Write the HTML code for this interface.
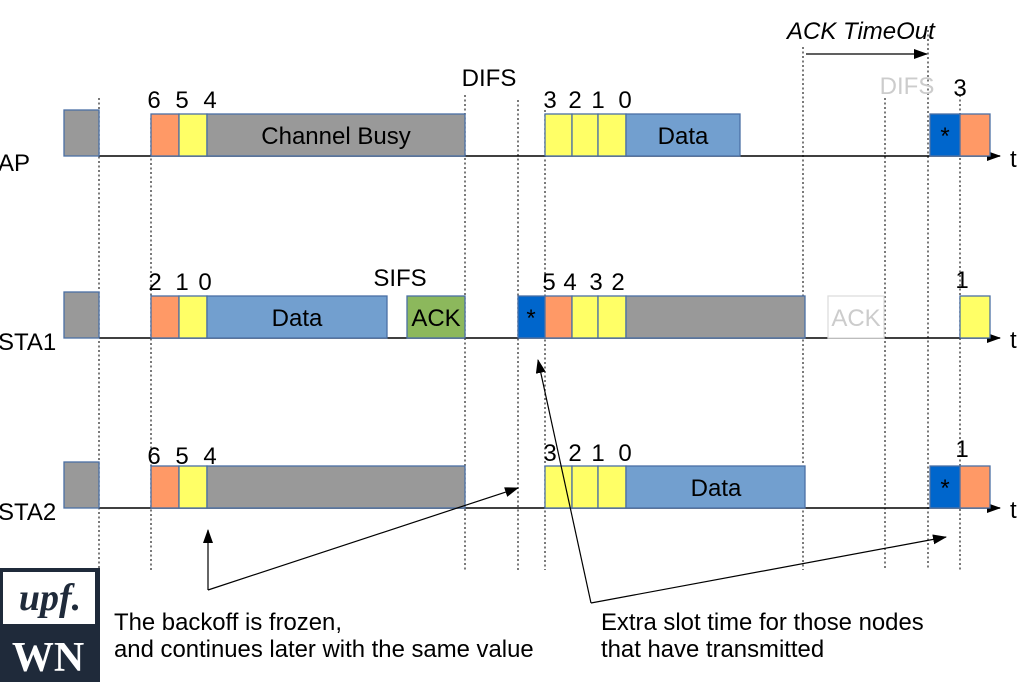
<!DOCTYPE html>
<html><head><meta charset="utf-8"><style>
html,body{margin:0;padding:0;background:#fff;}
svg{display:block;font-family:"Liberation Sans",sans-serif;}
</style></head><body>
<svg width="1020" height="682" viewBox="0 0 1020 682" xmlns="http://www.w3.org/2000/svg">
<defs>
<marker id="ah" markerWidth="14" markerHeight="10" refX="13" refY="5" orient="auto" markerUnits="userSpaceOnUse"><path d="M0,0 L14,5 L0,10 z" fill="#000"/></marker>
</defs>
<g stroke="#333" stroke-width="1.3" stroke-dasharray="2,2.5">
<line x1="99" y1="98" x2="99" y2="570"/>
<line x1="151" y1="118" x2="151" y2="570"/>
<line x1="465" y1="95" x2="465" y2="570"/>
<line x1="518" y1="100" x2="518" y2="570"/>
<line x1="545" y1="110" x2="545" y2="570"/>
<line x1="803" y1="47" x2="803" y2="570"/>
<line x1="885" y1="98" x2="885" y2="570"/>
<line x1="928" y1="30" x2="928" y2="570"/>
<line x1="960" y1="95" x2="960" y2="570"/>
</g>
<g stroke="#000" stroke-width="1.5">
<line x1="99" y1="156" x2="1000" y2="156" marker-end="url(#ah)"/>
<line x1="99" y1="338" x2="1000" y2="338" marker-end="url(#ah)"/>
<line x1="99" y1="508" x2="1000" y2="508" marker-end="url(#ah)"/>
</g>
<g font-size="24" fill="#000">
<text x="-2" y="171">AP</text><text x="1010" y="167">t</text>
<text x="-2" y="350">STA1</text><text x="1010" y="348">t</text>
<text x="-2" y="520">STA2</text><text x="1010" y="518">t</text>
</g>
<g stroke="#4a6fa5" stroke-width="1.3">
<rect x="64" y="110" width="35" height="46" fill="#999"/>
<rect x="151" y="114" width="28" height="42" fill="#ff9966"/>
<rect x="179" y="114" width="28" height="42" fill="#ffff66"/>
<rect x="207" y="114" width="258" height="42" fill="#999"/>
<rect x="545" y="114" width="27" height="42" fill="#ffff66"/>
<rect x="572" y="114" width="26" height="42" fill="#ffff66"/>
<rect x="598" y="114" width="28" height="42" fill="#ffff66"/>
<rect x="626" y="114" width="114" height="42" fill="#729fcf"/>
<rect x="930" y="114" width="30" height="42" fill="#0066cc"/>
<rect x="960" y="114" width="30" height="42" fill="#ff9966"/>
<rect x="64" y="292" width="35" height="46" fill="#999"/>
<rect x="151" y="296" width="28" height="42" fill="#ff9966"/>
<rect x="179" y="296" width="28" height="42" fill="#ffff66"/>
<rect x="207" y="296" width="180" height="42" fill="#729fcf"/>
<rect x="407" y="296" width="58" height="42" fill="#8cb85c"/>
<rect x="518" y="296" width="27" height="42" fill="#0066cc"/>
<rect x="545" y="296" width="27" height="42" fill="#ff9966"/>
<rect x="572" y="296" width="26" height="42" fill="#ffff66"/>
<rect x="598" y="296" width="28" height="42" fill="#ffff66"/>
<rect x="626" y="296" width="179" height="42" fill="#999"/>
<rect x="960" y="296" width="30" height="42" fill="#ffff66"/>
<rect x="64" y="462" width="35" height="46" fill="#999"/>
<rect x="151" y="466" width="28" height="42" fill="#ff9966"/>
<rect x="179" y="466" width="28" height="42" fill="#ffff66"/>
<rect x="207" y="466" width="258" height="42" fill="#999"/>
<rect x="545" y="466" width="27" height="42" fill="#ffff66"/>
<rect x="572" y="466" width="26" height="42" fill="#ffff66"/>
<rect x="598" y="466" width="28" height="42" fill="#ffff66"/>
<rect x="626" y="466" width="179" height="42" fill="#729fcf"/>
<rect x="930" y="466" width="30" height="42" fill="#0066cc"/>
<rect x="960" y="466" width="30" height="42" fill="#ff9966"/>
</g>
<rect x="828" y="296" width="56" height="42" fill="#fff" stroke="#ddd" stroke-width="1.3"/>
<g font-size="24" fill="#000" text-anchor="middle">
<text x="336" y="144">Channel Busy</text>
<text x="683" y="144">Data</text>
<text x="945" y="144">*</text>
<text x="297" y="326">Data</text>
<text x="436" y="326">ACK</text>
<text x="531" y="326">*</text>
<text x="856" y="326" fill="#ccc">ACK</text>
<text x="716" y="496">Data</text>
<text x="945" y="496">*</text>
<text x="154" y="108">6</text><text x="182" y="108">5</text><text x="210" y="108">4</text>
<text x="550" y="108">3</text><text x="575" y="108">2</text><text x="598" y="108">1</text><text x="625" y="108">0</text>
<text x="960" y="96">3</text>
<text x="155" y="290">2</text><text x="182" y="290">1</text><text x="205" y="290">0</text>
<text x="549" y="290">5</text><text x="570" y="290">4</text><text x="596" y="290">3</text><text x="618" y="290">2</text>
<text x="962" y="288">1</text>
<text x="154" y="464">6</text><text x="182" y="464">5</text><text x="210" y="464">4</text>
<text x="550" y="461">3</text><text x="575" y="461">2</text><text x="598" y="461">1</text><text x="625" y="461">0</text>
<text x="962" y="457">1</text>
<text x="489" y="86">DIFS</text>
<text x="400" y="286">SIFS</text>
<text x="907" y="94" fill="#ccc">DIFS</text>
</g>
<text x="787" y="39" font-size="24" font-style="italic">ACK TimeOut</text>
<line x1="806" y1="54" x2="927" y2="54" stroke="#000" stroke-width="1.3" marker-end="url(#ah)"/>
<g stroke="#000" stroke-width="1.2" fill="none">
<polyline points="208,590 208,530" marker-end="url(#ah)"/>
<polyline points="208,590 518,488" marker-end="url(#ah)"/>
<polyline points="591,603 538,360" marker-end="url(#ah)"/>
<polyline points="591,603 946,537" marker-end="url(#ah)"/>
</g>
<g font-size="23.9" fill="#000">
<text x="114" y="630">The backoff is frozen,</text>
<text x="114" y="657">and continues later with the same value</text>
<text x="601" y="630">Extra slot time for those nodes</text>
<text x="601" y="657">that have transmitted</text>
</g>
<rect x="0" y="568" width="100" height="114" fill="#1f2a3a"/>
<rect x="3" y="572" width="92" height="52" fill="#fff"/>
<text x="50" y="610" font-family="'Liberation Serif',serif" font-style="italic" font-weight="bold" font-size="38" fill="#1f2a3a" text-anchor="middle">upf.</text>
<text x="48" y="671" font-family="'Liberation Serif',serif" font-weight="bold" font-size="42" fill="#fff" text-anchor="middle">WN</text>
</svg>
</body></html>
